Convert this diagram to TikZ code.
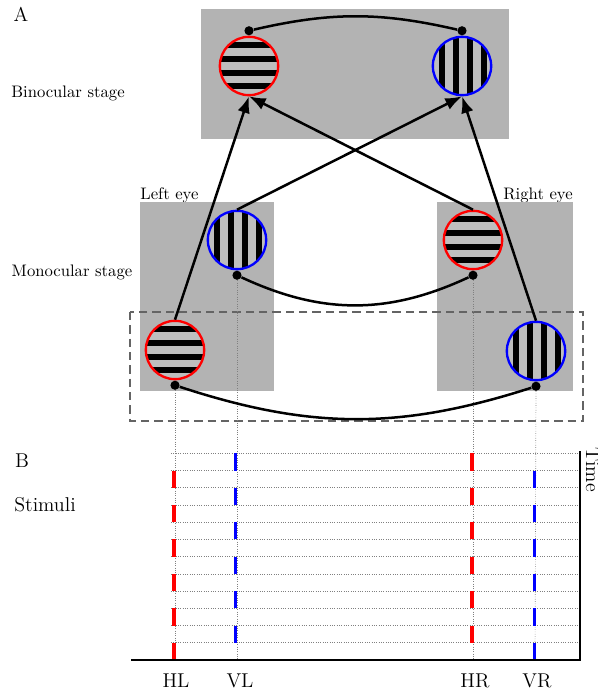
\documentclass[tikz,border=0pt]{standalone}
\usepackage{xcolor}
\usepackage{tikz}
\usetikzlibrary{arrows.meta,positioning}
\definecolor{paneGray}{RGB}{179,179,179}
\definecolor{gapGray}{RGB}{190,190,190}
\definecolor{boxGray}{RGB}{100,100,100}

\begin{document}
\begin{tikzpicture}[x=0.6pt, y=-0.6pt,
    stage/.style={fill=paneGray},
    grat/.style={circle, minimum size=35pt, inner sep=0pt,
        line width=1.4pt, fill=gapGray},
    hgrat/.style={grat, draw=red, path picture={
        \foreach \o in {12.9,4.5,-3.9,-11.7}
            \fill[black] ([yshift=\o pt]path picture bounding box.center)
                ++(-20pt,-1.8pt) rectangle ++(40pt,3.6pt);}},
    vgrat/.style={grat, draw=blue, path picture={
        \foreach \o in {-12,-3.6,4.8,13.2}
            \fill[black] ([xshift=\o pt]path picture bounding box.center)
                ++(-1.8pt,-20pt) rectangle ++(3.6pt,40pt);}},
    dot/.style={circle, fill=black, inner sep=0pt, minimum size=5.5pt},
    flow/.style={-{Latex[length=10pt,width=7.5pt]}, line width=1.5pt},
    link/.style={line width=1.5pt},
    guide/.style={densely dotted, gray, line width=0.4pt},
    selbox/.style={dashed, boxGray, line width=1.5pt, dash pattern=on 5pt off 3pt},
    axis/.style={line width=1.5pt},
    hbar/.style={fill=red},
    vbar/.style={fill=blue}
]
\useasboundingbox (0,0) rectangle (597,698);

\node[font=\large] (panelA) at (21,14) {A};
\node (bino) at (68,93) {Binocular stage};
\node (mono) at (72,272) {Monocular stage};
\node[anchor=base west, inner sep=0pt] (lefteye) at (140,199) {Left eye};
\node[anchor=base east, inner sep=0pt] (righteye) at (573,199) {Right eye};

\fill[stage] (201,9) rectangle (509,139);
\fill[stage] (140,202) rectangle (274,391);
\fill[stage] (437,202) rectangle (573,391);
\draw[selbox] (130,312) rectangle (583,421);

\node[hgrat] (bH) at (249,66) {};
\node[vgrat] (bV) at (462,66) {};
\node[hgrat] (mHL) at (175,350) {};
\node[vgrat] (mVL) at (237,240) {};
\node[hgrat] (mHR) at (473,240) {};
\node[vgrat] (mVR) at (536,351) {};

\draw[flow] (mHL.north) -- (bH.south);
\draw[flow] (mHR.north) -- (bH.south);
\draw[flow] (mVL.north) -- (bV.south);
\draw[flow] (mVR.north) -- (bV.south);

\coordinate (xHL) at (175,660);
\coordinate (xVL) at (237,660);
\coordinate (xHR) at (473,660);
\coordinate (xVR) at (535,660);

\node[dot, above=0pt of bH] (dbH) {};
\node[dot, above=0pt of bV] (dbV) {};
\node[dot, below=0pt of mHL] (dHL) {};
\node[dot, below=0pt of mVL] (dVL) {};
\node[dot, below=0pt of mHR] (dHR) {};
\node[dot, below=0pt of mVR] (dVR) {};

\draw[guide] (dHL) -- (xHL);
\draw[guide] (dVL) -- (xVL);
\draw[guide] (dHR) -- (xHR);
\draw[guide] (dVR) -- (xVR);

\draw[link] (dbH) to[bend left=13] (dbV);
\draw[link] (dVL) to[bend right=25] (dHR);
\draw[link] (dHL) to[bend right=18] (dVR);

\node[font=\large] (panelB) at (22,461) {B};
\node[font=\large] (stim) at (45,505) {Stimuli};

\foreach \k in {0,...,11}
    \draw[guide] (171,453.3+\k*17.22) -- (578,453.3+\k*17.22);
\foreach \k in {1,3,...,11} {
    \fill[hbar] (172,453.3+\k*17.22) rectangle ++(3.5,17.22);
    \fill[vbar] (532.5,453.3+\k*17.22) rectangle ++(3.5,17.22);
}
\foreach \k in {0,2,...,10} {
    \fill[vbar] (233.5,453.3+\k*17.22) rectangle ++(3.5,17.22);
    \fill[hbar] (470,453.3+\k*17.22) rectangle ++(3.5,17.22);
}

\coordinate (origin) at (131,660);
\coordinate (corner) at (580,660);
\coordinate (top) at (580,451);
\draw[axis] (origin) -- (corner) -- (top);
\node[rotate=-90, anchor=base west, inner sep=0pt, font=\large] (time) at (586,447) {Time};

\node[font=\large] (lHL) at (176,681) {HL};
\node[font=\large] (lVL) at (240,681) {VL};
\node[font=\large] (lHR) at (475,681) {HR};
\node[font=\large] (lVR) at (537,681) {VR};
\end{tikzpicture}
\end{document}
